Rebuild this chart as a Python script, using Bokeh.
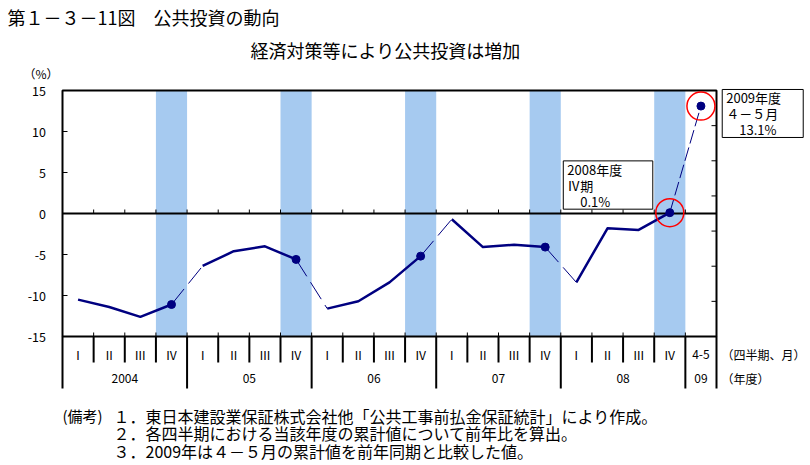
from bokeh.plotting import figure
from bokeh.models import Range1d
from bokeh.embed import file_html
from bokeh.resources import INLINE
from bokeh.core.properties import value

# ---------------- data ----------------
title_text = "第１－３－11図　公共投資の動向"
subtitle_text = "経済対策等により公共投資は増加"
unit_text = "（%）"
fiscal_years = ["2004", "05", "06", "07", "08", "09"]
quarters = ["Ⅰ", "Ⅱ", "Ⅲ", "Ⅳ"]
period_labels = quarters * 5 + ["4-5"]
period_year = ["2004"] * 4 + ["05"] * 4 + ["06"] * 4 + ["07"] * 4 + ["08"] * 4 + ["09"]
values = [-10.5, -11.4, -12.6, -11.1,
          -6.4, -4.6, -4.0, -5.6,
          -11.6, -10.7, -8.4, -5.2,
          -0.7, -4.1, -3.8, -4.1,
          -8.4, -1.8, -2.0, 0.1,
          13.1]
y_ticks = [-15, -10, -5, 0, 5, 10, 15]
right_axis_divisions = 7
note_head = "(備考)"
notes = ["１．東日本建設業保証株式会社他「公共工事前払金保証統計」により作成。",
         "２．各四半期における当該年度の累計値について前年比を算出。",
         "３．2009年は４－５月の累計値を前年同期と比較した値。"]
box1_lines = ["2008年度", "Ⅳ期", "　0.1%"]
box2_lines = ["2009年度", "４－５月", "　13.1%"]
axis_note_1 = "（四半期、月）"
axis_note_2 = "（年度）"

# ---------------- styles / layout (pixels) ----------------
FONT = value("Noto Sans CJK JP")
NAVY = "#000080"
BAND = "#A6CAF0"
W, H = 810, 465
PL, PR, PT, PB = 62, 716, 90, 336      # plot box in canvas pixels
N = len(values)
YMIN, YMAX = y_ticks[0], y_ticks[-1]
KX = (PR - PL) / N
KY = (PB - PT) / (YMAX - YMIN)

def X(px):
    return (px - PL) / KX

def Y(py):
    return YMAX - (py - PT) / KY

def dx(px):
    return px / KX

def dy(px):
    return px / KY

p = figure(width=W, height=H,
           x_range=Range1d(X(0), X(W)), y_range=Range1d(Y(H), Y(0)),
           output_backend="svg", toolbar_location=None,
           x_axis_location=None, y_axis_location=None,
           min_border=0, outline_line_color=None, background_fill_color="white")
p.grid.visible = False

def txt(x, y, t, size, align="left", color="black"):
    p.text(x=x, y=y, text=t, text_font=FONT, text_font_size=size, text_align=align,
           text_baseline="middle", text_color=color)

# header
txt([X(7)], [Y(16)], [title_text], "18px")
txt([X(385)], [Y(49)], [subtitle_text], "18px", "center")
txt([X(40.5)], [Y(73)], [unit_text], "12px", "center")

# bands for IV quarters
iv_idx = [i for i, q in enumerate(period_labels) if q == "Ⅳ"]
p.vbar(x=[i + 0.5 for i in iv_idx], top=YMAX, bottom=YMIN, width=1,
       fill_color=BAND, line_color=None)

# zero line
p.segment(x0=[0], y0=[0], x1=[N], y1=[0], line_color="black", line_width=2)

# small ticks on zero line and bottom edge
bounds = list(range(1, N))
for base in (0, YMIN):
    p.segment(x0=bounds, y0=[base] * len(bounds), x1=bounds, y1=[base + dy(4)] * len(bounds),
              line_color="black", line_width=1)

# left axis ticks + labels
inner = [v for v in y_ticks if YMIN < v < YMAX]
p.segment(x0=[0] * len(inner), y0=inner, x1=[dx(5)] * len(inner), y1=inner,
          line_color="black", line_width=1)
txt([X(45.5)] * len(y_ticks), y_ticks, [str(v) for v in y_ticks], "12.5px", "right")

# right axis ticks (secondary scale with 7 divisions)
r_ticks = [YMIN + (YMAX - YMIN) * j / right_axis_divisions for j in range(1, right_axis_divisions)]
p.segment(x0=[N - dx(5)] * len(r_ticks), y0=r_ticks, x1=[N] * len(r_ticks), y1=r_ticks,
          line_color="black", line_width=1)

# plot box
p.quad(left=[0], right=[N], bottom=[YMIN], top=[YMAX], fill_color=None,
       line_color="black", line_width=2)

# category table
year_bounds = [0] + [i for i in range(1, N) if period_year[i] != period_year[i - 1]] + [N]
q_bounds = [b for b in range(1, N) if b not in year_bounds]
p.segment(x0=q_bounds, y0=[YMIN] * len(q_bounds), x1=q_bounds, y1=[Y(362)] * len(q_bounds),
          line_color="black", line_width=2)
p.segment(x0=year_bounds, y0=[YMIN] * len(year_bounds), x1=year_bounds,
          y1=[Y(388)] * len(year_bounds), line_color="black", line_width=2)
xs = [i + 0.5 for i in range(N)]
txt(xs, [Y(354)] * N, period_labels, "12px", "center")
yc = []
for fy in fiscal_years:
    idx = [i for i in range(N) if period_year[i] == fy]
    yc.append((min(idx) + max(idx) + 1) / 2)
txt(yc, [Y(378)] * len(yc), fiscal_years, "12px", "center")
txt([X(721), X(721)], [Y(354), Y(378)], [axis_note_1, axis_note_2], "12px")

# series
start = 0
for i in range(1, N + 1):
    if i == N or period_year[i] != period_year[i - 1]:
        if i - start > 1:
            p.line(xs[start:i], values[start:i], line_color=NAVY, line_width=2.5,
                   line_join="round")
        start = i
for i in range(N - 1):
    if period_year[i] != period_year[i + 1]:
        dash = "14 4" if i + 1 == N - 1 else "20 7"
        p.line([xs[i], xs[i + 1]], [values[i], values[i + 1]], line_color=NAVY,
               line_width=1, line_dash=dash)

dot_idx = iv_idx + [N - 1]
p.scatter([xs[i] for i in dot_idx], [values[i] for i in dot_idx], size=8,
          fill_color=NAVY, line_color=NAVY)
p.scatter([xs[N - 2], xs[N - 1]], [values[N - 2], values[N - 1]], size=28,
          fill_color=None, line_color="red", line_width=1.5)

# callout boxes, placed relative to their data points (pixel offsets)
def callout(i, lines, left, right, top, bottom):
    x, y = xs[i], values[i]
    p.quad(left=[x + dx(left)], right=[x + dx(right)], top=[y - dy(top)], bottom=[y - dy(bottom)],
           fill_color="white", line_color="black", line_width=1)
    txt([x + dx(left + 4)] * len(lines),
        [y - dy(top + 8.5 + 16 * j) for j in range(len(lines))], lines, "13px")

callout(N - 2, box1_lines, -106.5, -17, -51.8, -3.5)
callout(N - 1, box2_lines, 21.3, 102.3, -16.6, 31.4)

# notes
txt([X(62)], [Y(415)], [note_head], "15px")
txt([X(113)] * 3, [Y(415), Y(432.5), Y(450)], notes, "16px")

open("out.html", "w").write(file_html(p, INLINE))
